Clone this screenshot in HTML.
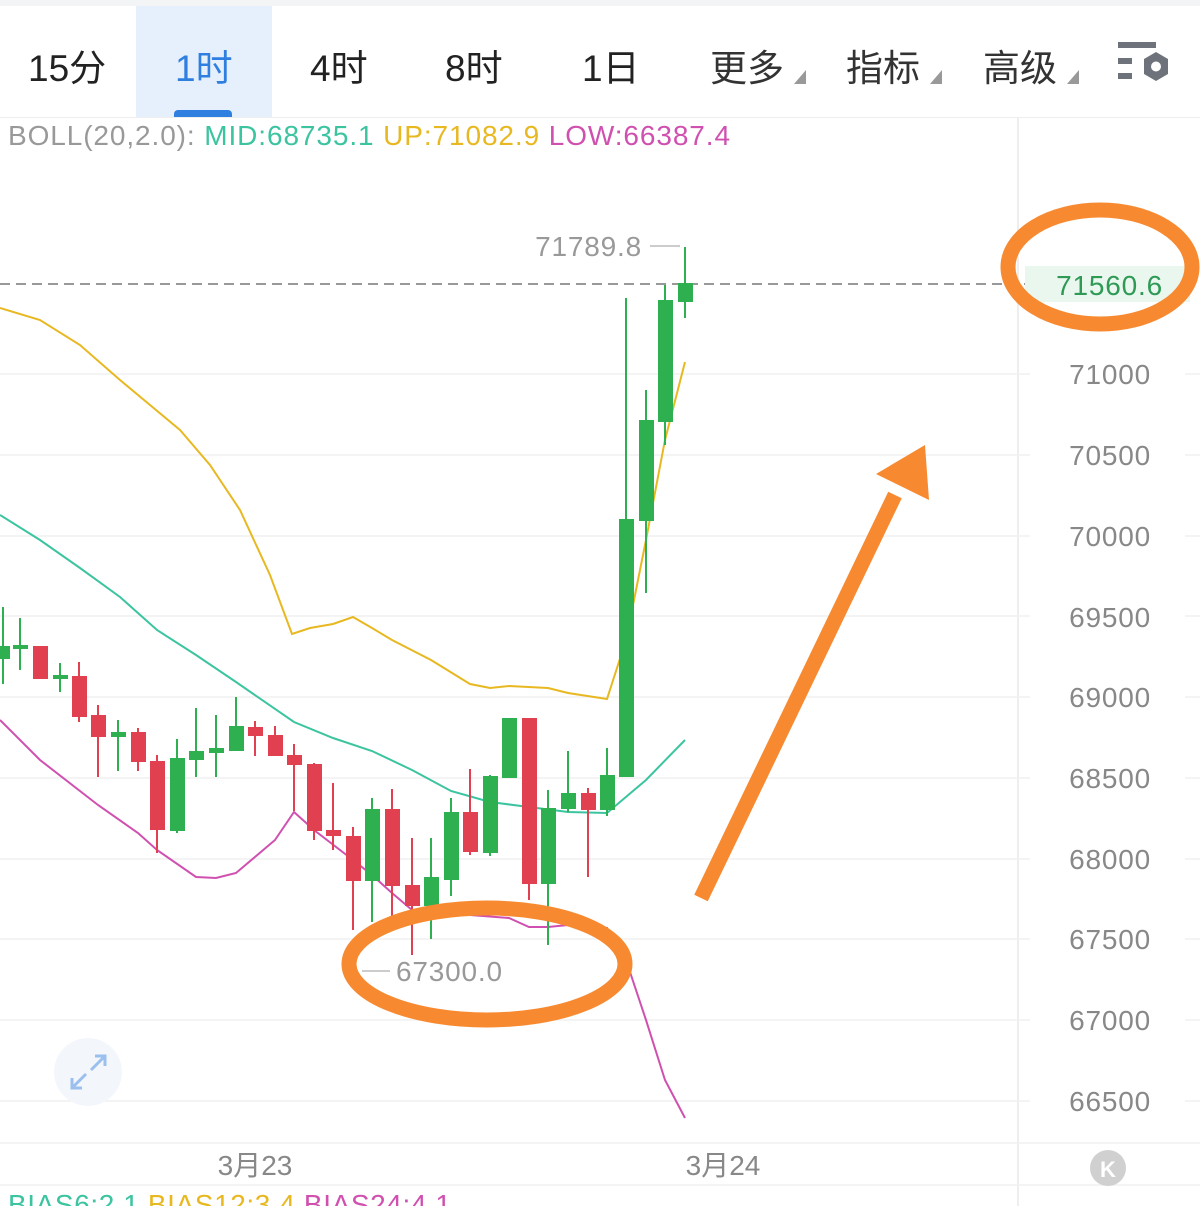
<!DOCTYPE html>
<html><head><meta charset="utf-8"><style>
html,body{margin:0;padding:0;background:#fff;}
body{width:1200px;height:1206px;overflow:hidden;position:relative;font-family:"Liberation Sans","Noto Sans CJK SC",sans-serif;}
.tab{position:absolute;top:38px;font-size:37px;color:#222;}
</style></head><body>
<div style="position:absolute;left:0;top:0;width:1200px;height:6px;background:#f3f4f6"></div>
<div style="position:absolute;left:136px;top:6px;width:136px;height:111px;background:#e6f0fc"></div>
<div style="position:absolute;left:174px;top:110px;width:58px;height:8px;background:#2f7fe0;border-radius:4px 4px 0 0"></div>
<div class="tab" style="left:28px">15分</div>
<div class="tab" style="left:175px;color:#2f7fe0">1时</div>
<div class="tab" style="left:310px">4时</div>
<div class="tab" style="left:445px">8时</div>
<div class="tab" style="left:582px">1日</div>
<div class="tab" style="left:710px;color:#333">更多</div>
<div class="tab" style="left:846px;color:#333">指标</div>
<div class="tab" style="left:983px;color:#333">高级</div>
<div style="position:absolute;left:0;top:117px;width:1200px;height:1px;background:#eee"></div>
<div style="position:absolute;left:8px;top:120px;font-size:28px;letter-spacing:0.9px;color:#999;white-space:nowrap">BOLL(20,2.0): <span style="color:#3cc4a0">MID:68735.1</span> <span style="color:#e8b820">UP:71082.9</span> <span style="color:#d050b0">LOW:66387.4</span></div>
<svg width="1200" height="1206" style="position:absolute;left:0;top:0">
<g fill="#999"><polygon points="806,70 806,84 794,84"/><polygon points="942,70 942,84 930,84"/><polygon points="1079,70 1079,84 1067,84"/></g>
<g fill="#6e737b"><rect x="1118" y="42" width="38" height="6"/><rect x="1118" y="58" width="14" height="6"/><rect x="1118" y="73" width="14" height="6"/><polygon points="1156,52 1168,59 1168,74 1156,81 1144,74 1144,59"/><circle cx="1156" cy="66.5" r="5" fill="#fff"/></g>
<line x1="1018" y1="118" x2="1018" y2="1206" stroke="#eee" stroke-width="2"/>
<g stroke="#f0f0f0" stroke-width="1.5">
<line x1="0" y1="374" x2="1030" y2="374"/><line x1="1185" y1="374" x2="1200" y2="374"/>
<line x1="0" y1="455" x2="1030" y2="455"/><line x1="1185" y1="455" x2="1200" y2="455"/>
<line x1="0" y1="536" x2="1030" y2="536"/><line x1="1185" y1="536" x2="1200" y2="536"/>
<line x1="0" y1="616" x2="1030" y2="616"/><line x1="1185" y1="616" x2="1200" y2="616"/>
<line x1="0" y1="697" x2="1030" y2="697"/><line x1="1185" y1="697" x2="1200" y2="697"/>
<line x1="0" y1="778" x2="1030" y2="778"/><line x1="1185" y1="778" x2="1200" y2="778"/>
<line x1="0" y1="859" x2="1030" y2="859"/><line x1="1185" y1="859" x2="1200" y2="859"/>
<line x1="0" y1="939" x2="1030" y2="939"/><line x1="1185" y1="939" x2="1200" y2="939"/>
<line x1="0" y1="1020" x2="1030" y2="1020"/><line x1="1185" y1="1020" x2="1200" y2="1020"/>
<line x1="0" y1="1101" x2="1030" y2="1101"/><line x1="1185" y1="1101" x2="1200" y2="1101"/>
<line x1="0" y1="1143" x2="1200" y2="1143"/><line x1="0" y1="1185" x2="1200" y2="1185"/>
</g>
<g font-size="28" fill="#888" text-anchor="end" letter-spacing="0.8">
<text x="1151" y="384">71000</text><text x="1151" y="465">70500</text><text x="1151" y="546">70000</text><text x="1151" y="627">69500</text><text x="1151" y="707">69000</text><text x="1151" y="788">68500</text><text x="1151" y="869">68000</text><text x="1151" y="949">67500</text><text x="1151" y="1030">67000</text><text x="1151" y="1111">66500</text>
</g>
<line x1="0" y1="284" x2="1025" y2="284" stroke="#999" stroke-width="2" stroke-dasharray="10,6"/>
<rect x="1025" y="266" width="165" height="36" fill="#eaf7ee"/>
<text x="1163" y="295" font-size="28" fill="#2e9a55" text-anchor="end" letter-spacing="0.8">71560.6</text>
<polyline fill="none" stroke="#e8b820" stroke-width="2" points="0,308 40,320 80,345 120,380 150,405 180,430 210,465 240,510 270,575 292,634 310,628 333,624 353,617 372,628 392,640 431,660 470,684 490,688 509,686 548,688 568,693 607,699 626,640 646,540 665,440 685,362"/>
<polyline fill="none" stroke="#3cc4a0" stroke-width="2" points="0,515 40,540 80,568 120,597 157,630 196,655 236,682 294,722 333,738 372,751 412,770 451,791 490,802 529,807 568,812 607,813 646,780 685,740"/>
<polyline fill="none" stroke="#d050b0" stroke-width="2" points="0,720 40,760 98,805 138,833 157,850 196,877 216,878 236,873 275,840 294,812 314,830 353,860 372,875 392,893 412,910 431,910 470,915 509,918 529,927 548,927 568,925 607,928 626,960 646,1020 665,1080 685,1118"/>
<g stroke-width="2">
<g stroke="#2eb050" fill="#2eb050">
<line x1="3" y1="607" x2="3" y2="684"/><rect x="-4" y="647" width="13" height="11"/>
<line x1="20" y1="618" x2="20" y2="670"/><rect x="14" y="646" width="13" height="2"/>
<line x1="60" y1="663" x2="60" y2="692"/><rect x="54" y="676" width="13" height="2"/>
<line x1="118" y1="720" x2="118" y2="771"/><rect x="112" y="733" width="13" height="3"/>
<line x1="177" y1="739" x2="177" y2="833"/><rect x="171" y="759" width="13" height="71"/>
<line x1="196" y1="708" x2="196" y2="777"/><rect x="190" y="752" width="13" height="7"/>
<line x1="216" y1="715" x2="216" y2="777"/><rect x="210" y="749" width="13" height="3"/>
<line x1="236" y1="697" x2="236" y2="751"/><rect x="230" y="727" width="13" height="23"/>
<line x1="372" y1="798" x2="372" y2="922"/><rect x="366" y="810" width="13" height="70"/>
<line x1="431" y1="838" x2="431" y2="939"/><rect x="425" y="878" width="13" height="27"/>
<line x1="451" y1="798" x2="451" y2="896"/><rect x="445" y="813" width="13" height="66"/>
<line x1="490" y1="775" x2="490" y2="856"/><rect x="484" y="777" width="13" height="75"/>
<line x1="509" y1="718" x2="509" y2="777"/><rect x="503" y="719" width="13" height="58"/>
<line x1="548" y1="790" x2="548" y2="945"/><rect x="542" y="809" width="13" height="74"/>
<line x1="568" y1="751" x2="568" y2="812"/><rect x="562" y="794" width="13" height="14"/>
<line x1="607" y1="748" x2="607" y2="816"/><rect x="601" y="776" width="13" height="33"/>
<line x1="626" y1="298" x2="626" y2="776"/><rect x="620" y="520" width="13" height="256"/>
<line x1="646" y1="390" x2="646" y2="593"/><rect x="640" y="421" width="13" height="99"/>
<line x1="665" y1="285" x2="665" y2="445"/><rect x="659" y="301" width="13" height="120"/>
<line x1="685" y1="247" x2="685" y2="318"/><rect x="679" y="284" width="13" height="17"/>
</g>
<g stroke="#e04050" fill="#e04050">
<line x1="40" y1="646" x2="40" y2="679"/><rect x="34" y="647" width="13" height="31"/>
<line x1="79" y1="662" x2="79" y2="722"/><rect x="73" y="677" width="13" height="39"/>
<line x1="98" y1="705" x2="98" y2="777"/><rect x="92" y="716" width="13" height="20"/>
<line x1="138" y1="728" x2="138" y2="771"/><rect x="132" y="733" width="13" height="28"/>
<line x1="157" y1="755" x2="157" y2="853"/><rect x="151" y="762" width="13" height="67"/>
<line x1="255" y1="721" x2="255" y2="756"/><rect x="249" y="728" width="13" height="7"/>
<line x1="275" y1="726" x2="275" y2="755"/><rect x="269" y="736" width="13" height="19"/>
<line x1="294" y1="744" x2="294" y2="811"/><rect x="288" y="756" width="13" height="8"/>
<line x1="314" y1="763" x2="314" y2="840"/><rect x="308" y="765" width="13" height="65"/>
<line x1="333" y1="783" x2="333" y2="850"/><rect x="327" y="831" width="13" height="4"/>
<line x1="353" y1="827" x2="353" y2="930"/><rect x="347" y="837" width="13" height="43"/>
<line x1="392" y1="789" x2="392" y2="922"/><rect x="386" y="810" width="13" height="75"/>
<line x1="412" y1="838" x2="412" y2="955"/><rect x="406" y="886" width="13" height="19"/>
<line x1="470" y1="769" x2="470" y2="855"/><rect x="464" y="813" width="13" height="38"/>
<line x1="529" y1="719" x2="529" y2="900"/><rect x="523" y="719" width="13" height="164"/>
<line x1="588" y1="788" x2="588" y2="877"/><rect x="582" y="794" width="13" height="15"/>
</g></g>
<line x1="650" y1="246" x2="680" y2="246" stroke="#bbb" stroke-width="1.5"/>
<text x="642" y="256" font-size="28" fill="#999" text-anchor="end" letter-spacing="0.8">71789.8</text>
<line x1="362" y1="971" x2="390" y2="971" stroke="#bbb" stroke-width="1.5"/>
<text x="396" y="981" font-size="28" fill="#999" letter-spacing="0.8">67300.0</text>
<text x="255" y="1175" font-size="28" fill="#888" text-anchor="middle">3月23</text>
<text x="723" y="1175" font-size="28" fill="#888" text-anchor="middle">3月24</text>
<circle cx="88" cy="1072" r="34" fill="#f3f6fb"/>
<g stroke="#9cc0ee" stroke-width="3" fill="none"><line x1="72" y1="1088" x2="86" y2="1074"/><polyline points="72,1078 72,1088 82,1088"/><line x1="105" y1="1056" x2="91" y2="1070"/><polyline points="95,1056 105,1056 105,1066"/></g>
<circle cx="1108" cy="1168" r="18" fill="#d0d0d0"/>
<text x="1108" y="1177" font-size="22" font-weight="bold" fill="#fff" text-anchor="middle">K</text>
<text x="8" y="1214" font-size="28" fill="#3cc4a0" letter-spacing="0.6">BIAS6:2.1 <tspan fill="#e8b820">BIAS12:3.4</tspan> <tspan fill="#d050b0">BIAS24:4.1</tspan></text>
<g stroke="#f78a30" fill="none" stroke-width="15">
<ellipse cx="1100" cy="267" rx="92" ry="57"/>
<ellipse cx="487" cy="964" rx="138" ry="56"/>
<line x1="701" y1="898" x2="895" y2="495"/>
</g>
<polygon points="925,445 929,500 876,474" fill="#f78a30"/>
</svg>
</body></html>
